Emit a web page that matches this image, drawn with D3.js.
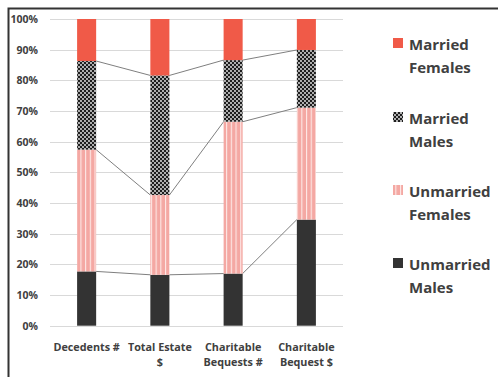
<!DOCTYPE html>
<html><head><meta charset="utf-8">
<script src="https://cdn.jsdelivr.net/npm/d3@7"></script>
<style>body{margin:0;background:#fff}svg{display:block}</style>
</head><body>
<script>
const categories = [["Decedents #"], ["Total Estate", "$"], ["Charitable", "Bequests #"], ["Charitable", "Bequest $"]];
const seriesNames = ["Unmarried Males", "Unmarried Females", "Married Males", "Married Females"];
const unmarriedMales = [0.177, 0.166, 0.170, 0.346];
const unmarriedFemales = [0.397, 0.260, 0.495, 0.365];
const marriedMales = [0.289, 0.390, 0.201, 0.188];
const marriedFemales = [0.137, 0.184, 0.134, 0.101];
const yTicks = [0, 0.1, 0.2, 0.3, 0.4, 0.5, 0.6, 0.7, 0.8, 0.9, 1.0];

const W = 498, H = 377;
const FONT = "Open Sans, sans-serif";
const svg = d3.select("body").append("svg").attr("width", W).attr("height", H);
const defs = svg.append("defs");
const pStripe = defs.append("pattern").attr("id", "stripe").attr("patternUnits", "userSpaceOnUse")
  .attr("width", 4.7).attr("height", 10).attr("x", 0.5);
pStripe.append("rect").attr("width", 4.7).attr("height", 10).attr("fill", "#f4a8a3");
pStripe.append("rect").attr("x", 0).attr("width", 1.1).attr("height", 10).attr("fill", "#fde8e6");
const pCheck = defs.append("pattern").attr("id", "check").attr("patternUnits", "userSpaceOnUse")
  .attr("width", 4).attr("height", 4);
pCheck.append("rect").attr("width", 4).attr("height", 4).attr("fill", "#1e1e1e");
pCheck.append("circle").attr("cx", 1).attr("cy", 1).attr("r", 0.9).attr("fill", "#f4f4f4");
pCheck.append("circle").attr("cx", 3).attr("cy", 3).attr("r", 0.9).attr("fill", "#f4f4f4");

const fills = ["#333333", "url(#stripe)", "url(#check)", "#f05a48"];

// border
svg.append("path").attr("d", `M8.5,${H} L8.5,8.5 L${W},8.5`).attr("fill", "none")
  .attr("stroke", "#333").attr("stroke-width", 2);

const x = d3.scaleBand().domain(d3.range(categories.length)).range([50, 343]).paddingInner(0.74).paddingOuter(0.37);
const y = d3.scaleLinear().domain([0, 1]).range([325.7, 19]);

// grid
svg.append("g").selectAll("line").data(yTicks).join("line")
  .attr("x1", 50).attr("x2", 343).attr("y1", d => Math.round(y(d)) + 0.5).attr("y2", d => Math.round(y(d)) + 0.5)
  .attr("stroke", "#d9d9d9").attr("stroke-width", 1);

const yAxis = d3.axisLeft(y).tickValues(yTicks).tickFormat(d3.format(".0%")).tickSize(0).tickPadding(0);
const ya = svg.append("g").attr("transform", "translate(38,0)").call(yAxis);
ya.select(".domain").remove();
ya.selectAll("text").attr("font-family", FONT).attr("font-size", 10.5).attr("font-weight", 700).attr("fill", "#404040");

const rows = categories.map((c, i) => ({ i, um: unmarriedMales[i], uf: unmarriedFemales[i], mm: marriedMales[i], mf: marriedFemales[i] }));
const stack = d3.stack().keys(["um", "uf", "mm", "mf"]);
const stacked = stack(rows);

// connecting lines
const lg = svg.append("g");
stacked.slice(0, 3).forEach(s => {
  for (let i = 0; i < s.length - 1; i++) {
    lg.append("line").attr("x1", x(i) + x.bandwidth()).attr("x2", x(i + 1))
      .attr("y1", y(s[i][1])).attr("y2", y(s[i + 1][1]))
      .attr("stroke", "#7f7f7f").attr("stroke-width", 1);
  }
});

svg.append("g").selectAll("g").data(stacked).join("g").attr("fill", (d, k) => fills[k])
  .selectAll("rect").data(d => d).join("rect")
  .attr("x", (d, i) => x(i)).attr("width", x.bandwidth())
  .attr("y", d => y(d[1])).attr("height", d => y(d[0]) - y(d[1]));

// x labels
const xl = svg.append("g");
categories.forEach((lines, i) => {
  const cx = x(i) + x.bandwidth() / 2;
  const t = xl.append("text").attr("x", cx).attr("y", 351)
    .attr("text-anchor", "middle").attr("font-family", FONT).attr("font-size", 10.8)
    .attr("font-weight", 700).attr("fill", "#404040");
  lines.forEach((l, j) => t.append("tspan").attr("x", cx).attr("dy", j ? 15 : 0).text(l));
});

// legend
const legend = [
  { k: 3, lines: ["Married", "Females"], y: 38 },
  { k: 2, lines: ["Married", "Males"], y: 112 },
  { k: 1, lines: ["Unmarried", "Females"], y: 185 },
  { k: 0, lines: ["Unmarried", "Males"], y: 258 }
];
const lgd = svg.append("g");
legend.forEach(d => {
  lgd.append("rect").attr("x", 393).attr("y", d.y).attr("width", 10).attr("height", 10).attr("fill", fills[d.k]);
  const t = lgd.append("text").attr("x", 409).attr("y", d.y + 12).attr("font-family", FONT)
    .attr("font-size", 15).attr("font-weight", 700).attr("fill", "#404040");
  d.lines.forEach((l, j) => t.append("tspan").attr("x", 409).attr("dy", j ? 23 : 0).text(l));
});
</script>
</body></html>
